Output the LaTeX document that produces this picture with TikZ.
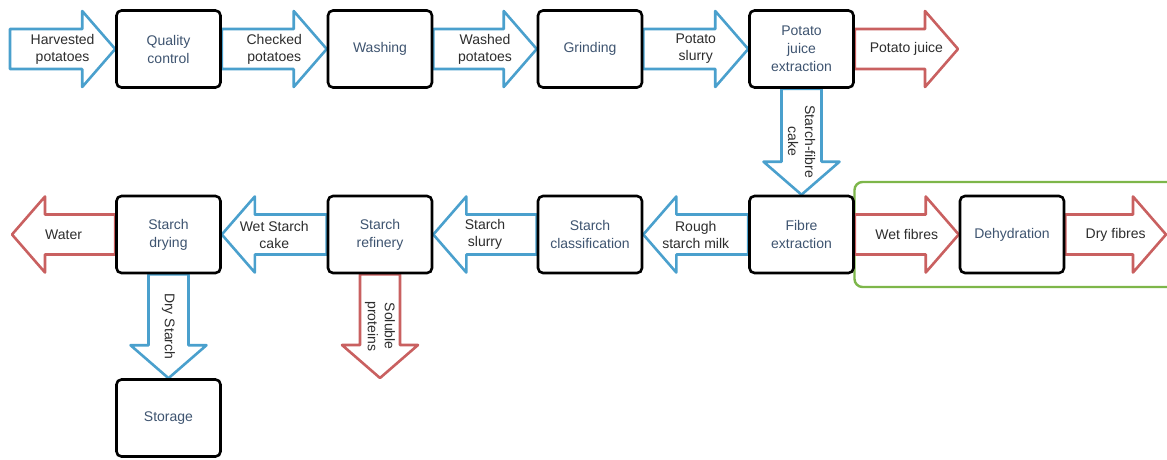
\documentclass[tikz,border=0pt]{standalone}
\usepackage{fontspec}
\setmainfont{Liberation Sans}
\usetikzlibrary{calc}
\definecolor{abl}{RGB}{74,160,205}
\definecolor{ard}{RGB}{201,96,96}
\definecolor{agr}{RGB}{125,182,74}
\definecolor{btx}{RGB}{62,84,112}
\definecolor{atx}{RGB}{45,45,45}
\pgfdeclarelayer{bg}
\pgfsetlayers{bg,main}
\tikzset{
  proc/.style={draw=black, fill=white, line width=2.6pt, rounded corners=5pt,
    minimum width=104pt, minimum height=77pt, align=center, text=btx,
    font=\fontsize{14}{18}\selectfont, inner sep=2pt},
  fat/.style={line width=2.6pt, line join=round, fill=white},
  fatb/.style={fat, draw=abl},
  fatr/.style={fat, draw=ard},
  lab/.style={text=atx, align=center, font=\fontsize{14}{17}\selectfont, inner sep=1pt},
  grp/.style={draw=agr, line width=2.4pt, rounded corners=8pt, minimum width=321pt, minimum height=105pt},
}
% rightward fat arrow: style, from, to, label name, text
\newcommand\flowR[5]{%
  \draw[#1] ($(#2)+(0,20)$) -- ($(#3)+(-33,20)$) -- ($(#3)+(-33,38)$) -- (#3)
    -- ($(#3)+(-33,-38)$) -- ($(#3)+(-33,-20)$) -- ($(#2)+(0,-20)$) -- cycle;
  \node[lab] (#4) at ($(#2)!0.5!(#3)$) {#5};}
% leftward fat arrow
\newcommand\flowL[5]{%
  \draw[#1] ($(#2)+(0,20)$) -- ($(#3)+(33,20)$) -- ($(#3)+(33,38)$) -- (#3)
    -- ($(#3)+(33,-38)$) -- ($(#3)+(33,-20)$) -- ($(#2)+(0,-20)$) -- cycle;
  \node[lab] (#4) at ($(#2)!0.5!(#3)$) {#5};}
% downward fat arrow
\newcommand\flowD[5]{%
  \draw[#1] ($(#2)+(20,0)$) -- ($(#3)+(20,33)$) -- ($(#3)+(38,33)$) -- (#3)
    -- ($(#3)+(-38,33)$) -- ($(#3)+(-20,33)$) -- ($(#2)+(-20,0)$) -- cycle;
  \node[lab, rotate=-90] (#4) at ($(#2)!0.5!(#3)$) {#5};}
\begin{document}
\begin{tikzpicture}[x=1pt,y=1pt]
\useasboundingbox (0,0) rectangle (1167,-459);
% process boxes
\node[proc] (qc)    at (168.5,-49) {Quality\\control};
\node[proc] (wash)  at (380,-49)   {Washing};
\node[proc] (grind) at (590,-49)   {Grinding};
\node[proc] (pje)   at (801.5,-49) {Potato\\juice\\extraction};
\node[proc] (sd)    at (168.5,-234.5) {Starch\\drying};
\node[proc] (sr)    at (380,-234.5)   {Starch\\refinery};
\node[proc] (sc)    at (590,-234.5)   {Starch\\classification};
\node[proc] (fe)    at (801.5,-234.5) {Fibre\\extraction};
\node[proc] (dh)    at (1012,-234.5)  {Dehydration};
\node[proc] (st)    at (168.5,-418)   {Storage};
% free ends
\coordinate (hstart) at (10,-49);
\coordinate (pjend)  at (958,-49);
\coordinate (wend)   at (12,-234.5);
\coordinate (dfend)  at (1166,-234.5);
\coordinate (spend)  at (380,-378);
\begin{pgfonlayer}{bg}
\node[grp] (fibregroup) at (1015,-234.5) {};
\flowR{fatb}{hstart}{qc.west}{l1}{Harvested\\potatoes}
\flowR{fatb}{qc.east}{wash.west}{l2}{Checked\\potatoes}
\flowR{fatb}{wash.east}{grind.west}{l3}{Washed\\potatoes}
\flowR{fatb}{grind.east}{pje.west}{l4}{Potato\\slurry}
\flowR{fatr}{pje.east}{pjend}{l5}{Potato juice}
\flowD{fatb}{pje.south}{fe.north}{l6}{Starch-fibre\\cake}
\flowL{fatb}{fe.west}{sc.east}{l7}{Rough\\starch milk}
\flowL{fatb}{sc.west}{sr.east}{l8}{Starch\\slurry}
\flowL{fatb}{sr.west}{sd.east}{l9}{Wet Starch\\cake}
\flowL{fatr}{sd.west}{wend}{l10}{Water}
\flowD{fatb}{sd.south}{st.north}{l11}{Dry Starch}
\flowD{fatr}{sr.south}{spend}{l12}{Soluble\\proteins}
\flowR{fatr}{fe.east}{dh.west}{l13}{Wet fibres}
\flowR{fatr}{dh.east}{dfend}{l14}{Dry fibres}
\end{pgfonlayer}
\end{tikzpicture}
\end{document}
